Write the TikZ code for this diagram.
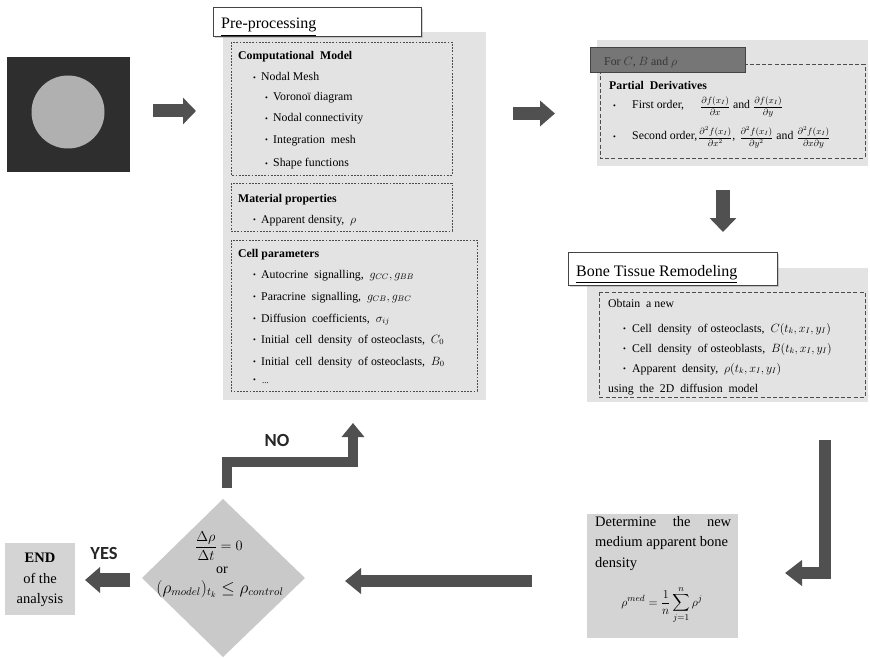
\documentclass[tikz,border=0pt]{standalone}
\usepackage{amsmath}
\usepackage{fontspec}
\setmainfont{Liberation Serif}
\newfontfamily\labelfont{Carlito}
\usetikzlibrary{arrows.meta,shadows}

\definecolor{panelgray}{HTML}{E3E3E3}
\definecolor{dashcol}{HTML}{4D4D4D}
\definecolor{arrowcol}{HTML}{505050}
\definecolor{diamcol}{HTML}{C9C9C9}
\definecolor{boxcol}{HTML}{D4D4D4}
\definecolor{forcol}{HTML}{767676}
\definecolor{imgdark}{HTML}{2E2E2E}
\definecolor{imglight}{HTML}{B0B0B0}
\definecolor{titleedge}{HTML}{444444}

\newcommand\mybullet{\raisebox{0.6pt}{\fontsize{8}{8}\selectfont\textbullet}}
\newcommand\smallfrac[1]{{\fontsize{9}{10}\selectfont$#1$}}

\begin{document}
\begin{tikzpicture}[x=1pt,y=-1pt,
  txt/.style={anchor=base west,inner sep=0,font=\fontsize{11.8}{13}\selectfont},
  hd/.style={txt,font=\fontsize{11.8}{13}\selectfont\bfseries},
  bul/.style={anchor=base west,inner sep=0},
  panel/.style={fill=panelgray,draw=none},
  dotbox/.style={draw=dashcol,line width=0.8pt,dash pattern=on 1.8pt off 1.4pt},
  dashbox/.style={draw=dashcol,line width=0.9pt,dash pattern=on 4pt off 2.2pt},
  titlebox/.style={draw=titleedge,fill=white,line width=1.3pt,
    drop shadow={opacity=0.35,shadow xshift=1.5pt,shadow yshift=-1.5pt}},
  bigarrow/.style={draw=arrowcol,line width=#1,line join=miter},
  yesno/.style={font=\labelfont\bfseries\fontsize{18.5}{20}\selectfont,inner sep=0,text=black!85}
]
\useasboundingbox (0,0) rectangle (870,658);

% ---------- input image ----------
\node[fill=imgdark,minimum width=123pt,minimum height=115pt,inner sep=0,anchor=north west] (img) at (7,57) {};
\fill[imglight] (68,112) circle (36.5);

% ---------- pre-processing ----------
\fill[panel] (223,32) rectangle (486,400);
\node[titlebox,minimum width=208pt,minimum height=29pt,anchor=north west,inner sep=0] (pretitle) at (213,7) {};
\node[anchor=base west,inner sep=0,font=\fontsize{16}{18}\selectfont] at (221,29) {\underline{Pre-processing}};

\draw[dotbox] (231,42) rectangle (452,175);
\node[hd] at (238,60) {Computational\ \ Model};
\node[bul] at (253,81) {\mybullet};
\node[txt] (nm) at (261,81) {Nodal Mesh};
\node[bul] at (265,101) {\mybullet};
\node[txt] at (273,101) {Voronoï diagram};
\node[bul] at (265,122) {\mybullet};
\node[txt] at (273,122) {Nodal connectivity};
\node[bul] at (265,143) {\mybullet};
\node[txt] at (273,143) {Integration\ \ mesh};
\node[bul] at (265,167) {\mybullet};
\node[txt] at (273,167) {Shape functions};

\draw[dotbox] (231,183) rectangle (452,231);
\node[hd] at (238,202) {Material properties};
\node[bul] at (253,223) {\mybullet};
\node[txt] at (261,223) {Apparent density,\ \ $\rho$};

\draw[dotbox] (231,240) rectangle (477,391);
\node[hd] at (238,257) {Cell parameters};
\node[bul] at (253,278) {\mybullet};
\node[txt] at (261,278) {Autocrine\ \ signalling,\ \ $g_{CC}, g_{BB}$};
\node[bul] at (253,300) {\mybullet};
\node[txt] at (261,300) {Paracrine\ \ signalling,\ \ $g_{CB}, g_{BC}$};
\node[bul] at (253,322) {\mybullet};
\node[txt] at (261,322) {Diffusion\ \ coefficients,\ \ $\sigma_{ij}$};
\node[bul] at (253,343) {\mybullet};
\node[txt] at (261,343) {Initial\ \ cell\ \ density\ \ of osteoclasts,\ \ $C_0$};
\node[bul] at (253,365) {\mybullet};
\node[txt] at (261,365) {Initial\ \ cell\ \ density\ \ of osteoclasts,\ \ $B_0$};
\node[bul] at (253,383) {\mybullet};
\node[txt,font=\fontsize{9}{10}\selectfont] at (262,383) {...};

% ---------- partial derivatives ----------
\fill[panel] (597,40) rectangle (868,166);
\draw[dashbox] (600,64) rectangle (865,158);
\node[draw=titleedge,fill=forcol,line width=1pt,minimum width=155pt,minimum height=25pt,anchor=north west,inner sep=0] (forbox) at (590,47) {};
\node[txt,text=black!80] at (604,66) {For $C$, $B$ and $\rho$};
\node[hd] at (609,90) {Partial\ \ Derivatives};
\node[bul] at (613,109) {\mybullet};
\node[txt] at (632,109) {First order,\hspace{16pt}\smallfrac{\dfrac{\partial f(x_I)}{\partial x}} and \smallfrac{\dfrac{\partial f(x_I)}{\partial y}}};
\node[bul] at (613,140) {\mybullet};
\node[txt] at (632,140) {Second order,\hspace{1pt}\smallfrac{\dfrac{\partial^2 f(x_I)}{\partial x^2}},\hspace{4pt}\smallfrac{\dfrac{\partial^2 f(x_I)}{\partial y^2}} and \smallfrac{\dfrac{\partial^2 f(x_I)}{\partial x\partial y}}};

% ---------- bone tissue remodeling ----------
\fill[panel] (587,268) rectangle (868,402);
\node[titlebox,minimum width=209pt,minimum height=33pt,anchor=north west,inner sep=0] (bonetitle) at (568,252) {};
\node[anchor=base west,inner sep=0,font=\fontsize{16}{18}\selectfont] at (576,276) {\underline{Bone Tissue Remodeling}};
\draw[dashbox] (599,292) rectangle (865,397);
\node[txt] at (608,307) {Obtain\ \ a new};
\node[bul] at (623,332) {\mybullet};
\node[txt] at (632,332) {Cell\ \ density\ \ of osteoclasts,\ \ $C(t_k, x_I, y_I)$};
\node[bul] at (623,352) {\mybullet};
\node[txt] at (632,352) {Cell\ \ density\ \ of osteoblasts,\ \ $B(t_k, x_I, y_I)$};
\node[bul] at (623,372) {\mybullet};
\node[txt] at (632,372) {Apparent\ \ density,\ \ $\rho(t_k, x_I, y_I)$};
\node[txt] at (608,392) {using\ \ the\ \ 2D\ \ diffusion\ \ model};

% ---------- mean density ----------
\node[fill=boxcol,minimum width=151pt,minimum height=124pt,anchor=north west,inner sep=0] (med) at (587,514) {};
\node[anchor=north west,inner sep=0,text width=136pt,align=justify,
  font=\fontsize{14.5}{20.5}\selectfont] at (595,516)
  {Determine\hfill the\hfill new\\ medium apparent bone\\ density};
\node[inner sep=0,font=\fontsize{12.5}{14}\selectfont] at (662,605)
  {$\displaystyle \rho^{med} = \frac{1}{n}\sum_{j=1}^{n}\rho^{j}$};

% ---------- decision ----------
\fill[diamcol] (223,499) coordinate (dtop) -- (305,578) coordinate (dright)
  -- (223,657) coordinate (dbot) -- (142,578) coordinate (dleft) -- cycle;
\node[inner sep=0] (dec) at (223,578) {};
\node[inner sep=0,font=\fontsize{14}{16}\selectfont] at (219,546) {$\dfrac{\Delta\rho}{\Delta t} = 0$};
\node[inner sep=0,font=\fontsize{14}{16}\selectfont] at (222,570) {or};
\node[inner sep=0,font=\fontsize{16}{18}\selectfont] at (220,589) {$(\rho_{model})_{t_k} \le \rho_{control}$};

% ---------- end ----------
\node[fill=boxcol,minimum width=70pt,minimum height=72pt,anchor=north west,inner sep=0] (endbox) at (5,543) {};
\node[inner sep=0,align=center,font=\fontsize{14.5}{20.5}\selectfont] at (40,580)
  {\textbf{END}\\ of the\\ analysis};

% ---------- labels ----------
\node[yesno] (yes) at (104,553) {YES};
\node[yesno] (no) at (277,440) {NO};

% ---------- arrow end points ----------
\coordinate (a1s) at (153,111);  \coordinate (a1e) at (196,111);
\coordinate (a2s) at (513,113.5);  \coordinate (a2e) at (555,113.5);
\coordinate (a3s) at (723,190);  \coordinate (a3e) at (723,232);
\coordinate (a4s) at (825,440);  \coordinate (a4e) at (785,573);
\coordinate (a5s) at (532,581);  \coordinate (a5e) at (345,581);
\coordinate (a6s) at (130,580);  \coordinate (a6e) at (85,580);
\coordinate (a7s) at (227,488);  \coordinate (a7m) at (353,462); \coordinate (a7e) at (353,423);

% ---------- block arrows ----------
\draw[bigarrow=13pt,-{Triangle[length=13pt,width=26pt]}] (a1s) -- (a1e);
\draw[bigarrow=13pt,-{Triangle[length=15pt,width=25pt]}] (a2s) -- (a2e);
\draw[bigarrow=14pt,-{Triangle[length=14pt,width=26pt]}] (a3s) -- (a3e);
\draw[bigarrow=12pt,-{Triangle[length=17pt,width=25pt]}] (a4s) |- (a4e);
\draw[bigarrow=12pt,-{Triangle[length=16pt,width=25pt]}] (a5s) -- (a5e);
\draw[bigarrow=14pt,-{Triangle[length=15pt,width=25pt]}] (a6s) -- (a6e);
\draw[bigarrow=10.5pt,-{Triangle[length=14pt,width=22pt]}] (a7s) |- (a7m) -- (a7e);
\end{tikzpicture}
\end{document}
